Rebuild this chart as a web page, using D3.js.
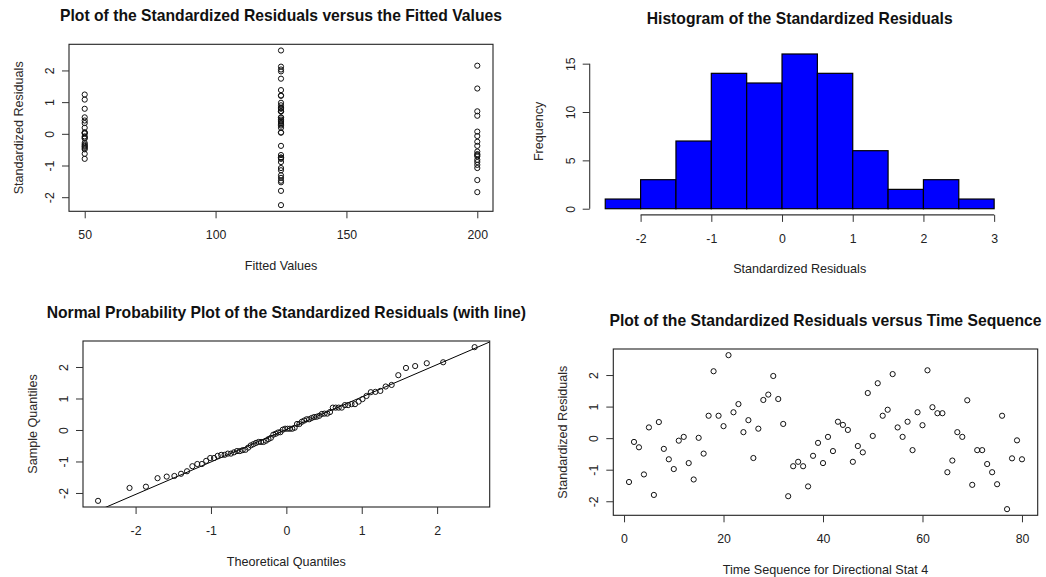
<!DOCTYPE html>
<html><head><meta charset="utf-8">
<script src="https://cdn.jsdelivr.net/npm/d3@7"></script>
<style>
body{margin:0;background:#fff;}
svg{display:block;font-family:"Liberation Sans",Arial,sans-serif;}
</style></head><body>
<svg id="chart" width="1046" height="577"></svg>
<script>
// ---- data ----
const residuals = [
 -1.39,-0.12,-0.29,-1.15, 0.34,-1.80, 0.51,-0.34,-0.67,-0.98,
 -0.08, 0.04,-0.79,-1.31, 0.01,-0.49, 0.71, 2.12, 0.71, 0.38,
  2.63, 0.82, 1.08, 0.19, 0.57,-0.63, 0.30, 1.21, 1.38, 1.97,
  1.24, 0.45,-1.84,-0.89,-0.75,-0.89,-1.53,-0.56,-0.15,-0.79,
  0.04,-0.41, 0.52, 0.42, 0.26,-0.75,-0.25,-0.45, 1.43, 0.07,
  1.74, 0.71, 0.90, 2.03, 0.34, 0.04, 0.52,-0.38, 0.82, 0.41,
  2.15, 0.98, 0.79, 0.79,-1.08,-0.71, 0.19, 0.04, 1.20,-1.48,
 -0.38,-0.38,-0.82,-1.08,-1.46, 0.71,-2.25,-0.64,-0.07,-0.67];
const fittedValues = [
 125, 50, 50,125, 50,125,125, 50,125,200,
  50, 50, 50,125, 50, 50,125,125,125,125,
 125,125, 50, 50,200, 50,125,125,125,125,
  50,125,200,200,125,125,125,200, 50,125,
 125, 50, 50, 50,125,125,200, 50,200,200,
 125,125,125,125,125, 50,125,200,125,125,
 200,125, 50,125,125,200,125,125,125,125,
  50,125,200,200,200,200,125,200,200,200];
const timeIndex = residuals.map((_, i) => i + 1);
const histBreaks = [-2.5,-2,-1.5,-1,-0.5,0,0.5,1,1.5,2,2.5,3];
const histCounts = [1,3,7,14,13,16,14,6,2,3,1];
const fittedTicks = [50,100,150,200];
const residTicks = [-2,-1,0,1,2];
const histXTicks = [-2,-1,0,1,2,3];
const histYTicks = [0,5,10,15];
const qqXTicks = [-2,-1,0,1,2];
const timeTicks = [0,20,40,60,80];

// ---- helpers ----
const svg = d3.select("#chart");
const TXT = "#222";
const fmt = d => String(d);
function rRange(vals){ const [a,b]=d3.extent(vals); const p=(b-a)*0.04; return [a-p,b+p]; }
function qnorm(p){
  const a=[-3.969683028665376e+01,2.209460984245205e+02,-2.759285104469687e+02,1.383577518672690e+02,-3.066479806614716e+01,2.506628277459239e+00];
  const b=[-5.447609879822406e+01,1.615858368580409e+02,-1.556989798598866e+02,6.680131188771972e+01,-1.328068155288572e+01];
  const c=[-7.784894002430293e-03,-3.223964580411365e-01,-2.400758277161838e+00,-2.549671010249719e+00,4.374664141464968e+00,2.938163982698783e+00];
  const d=[7.784695709041462e-03,3.224671290700398e-01,2.445134137142996e+00,3.754408661907416e+00];
  const pl=0.02425; let q,r;
  if(p<pl){q=Math.sqrt(-2*Math.log(p));return (((((c[0]*q+c[1])*q+c[2])*q+c[3])*q+c[4])*q+c[5])/((((d[0]*q+d[1])*q+d[2])*q+d[3])*q+1);}
  if(p>1-pl){q=Math.sqrt(-2*Math.log(1-p));return -(((((c[0]*q+c[1])*q+c[2])*q+c[3])*q+c[4])*q+c[5])/((((d[0]*q+d[1])*q+d[2])*q+d[3])*q+1);}
  q=p-0.5; r=q*q;
  return (((((a[0]*r+a[1])*r+a[2])*r+a[3])*r+a[4])*r+a[5])*q/(((((b[0]*r+b[1])*r+b[2])*r+b[3])*r+b[4])*r+1);
}

function xAxis(g, scale, ticks, y){
  const ax = g.append("g").attr("transform",`translate(0,${y})`)
    .call(d3.axisBottom(scale).tickValues(ticks).tickSize(7).tickSizeOuter(0).tickPadding(9).tickFormat(fmt));
  ax.select(".domain").remove();
  ax.selectAll(".tick line").attr("stroke","#333");
  ax.selectAll(".tick text").attr("fill",TXT).attr("font-size","12.3px")
    .attr("y",null).attr("dy",null).attr("transform","translate(0,28)");
  return ax;
}
function yAxis(g, scale, ticks, x){
  const ax = g.append("g").attr("transform",`translate(${x},0)`)
    .call(d3.axisLeft(scale).tickValues(ticks).tickSize(7).tickSizeOuter(0).tickFormat(fmt));
  ax.select(".domain").remove();
  ax.selectAll(".tick line").attr("stroke","#333");
  ax.selectAll(".tick text").attr("fill",TXT).attr("font-size","12.3px")
    .attr("x",0).attr("y",-15).attr("dy",null).attr("text-anchor","middle")
    .attr("transform","rotate(-90)");
  return ax;
}
function labels(g, box, title, xl, yl){
  const cx=(box.l+box.r)/2, cy=(box.t+box.b)/2;
  g.append("text").attr("x",cx).attr("y",box.t-23.5).attr("text-anchor","middle")
    .attr("font-weight","bold").attr("font-size","15.7px").attr("fill","#111").text(title);
  g.append("text").attr("x",cx).attr("y",box.b+58.5).attr("text-anchor","middle")
    .attr("font-size","12.6px").attr("fill",TXT).text(xl);
  g.append("text").attr("transform",`translate(${box.l-46.5},${cy}) rotate(-90)`).attr("text-anchor","middle")
    .attr("font-size","12.6px").attr("fill","#2e2a28").text(yl);
}
function frame(g, box){
  g.append("rect").attr("x",box.l).attr("y",box.t).attr("width",box.r-box.l).attr("height",box.b-box.t)
    .attr("fill","none").attr("stroke","#222").attr("stroke-width",1.1);
}
function points(g, xs, ys, sx, sy){
  g.append("g").selectAll("circle").data(xs).join("circle")
    .attr("cx",(d)=>sx(d)).attr("cy",(d,i)=>sy(ys[i])).attr("r",2.6)
    .attr("fill","none").attr("stroke","#111").attr("stroke-width",1);
}

// ---- Panel 1: residuals vs fitted ----
{
  const box={l:69,r:493,t:44.3,b:211.3};
  const g=svg.append("g");
  const sx=d3.scaleLinear().domain(rRange(fittedValues)).range([box.l,box.r]);
  const sy=d3.scaleLinear().domain(rRange(residuals)).range([box.b,box.t]);
  points(g, fittedValues, residuals, sx, sy);
  frame(g,box);
  xAxis(g,sx,fittedTicks,box.b);
  yAxis(g,sy,residTicks,box.l);
  labels(g,box,"Plot of the Standardized Residuals versus the Fitted Values","Fitted Values","Standardized Residuals");
}

// ---- Panel 2: histogram ----
{
  const box={l:589.7,r:1009.7,t:47.8,b:214.9};
  const g=svg.append("g");
  const sx=d3.scaleLinear().domain(rRange(histBreaks)).range([box.l,box.r]);
  const sy=d3.scaleLinear().domain(rRange([0,d3.max(histCounts)])).range([box.b,box.t]);
  g.append("g").selectAll("rect").data(histCounts).join("rect")
    .attr("x",(d,i)=>sx(histBreaks[i])).attr("width",(d,i)=>sx(histBreaks[i+1])-sx(histBreaks[i]))
    .attr("y",d=>sy(d)).attr("height",d=>sy(0)-sy(d))
    .attr("fill","#0000ff").attr("stroke","#000").attr("stroke-width",1.2);
  xAxis(g,sx,histXTicks,box.b);
  g.append("line").attr("x1",sx(histXTicks[0])).attr("x2",sx(histXTicks[histXTicks.length-1]))
    .attr("y1",box.b).attr("y2",box.b).attr("stroke","#333").attr("stroke-width",1.1);
  yAxis(g,sy,histYTicks,box.l);
  g.append("line").attr("y1",sy(histYTicks[0])).attr("y2",sy(histYTicks[histYTicks.length-1]))
    .attr("x1",box.l).attr("x2",box.l).attr("stroke","#333").attr("stroke-width",1.1);
  labels(g,box,"Histogram of the Standardized Residuals","Standardized Residuals","Frequency");
}

// ---- Panel 3: normal QQ plot ----
{
  const box={l:83,r:489.7,t:341,b:507};
  const g=svg.append("g");
  const sorted=residuals.slice().sort(d3.ascending);
  const n=sorted.length;
  const theo=sorted.map((_,i)=>qnorm((i+0.5)/n));
  const sx=d3.scaleLinear().domain(rRange(theo)).range([box.l,box.r]);
  const sy=d3.scaleLinear().domain(rRange(sorted)).range([box.b,box.t]);
  svg.append("clipPath").attr("id","qqclip").append("rect")
    .attr("x",box.l).attr("y",box.t).attr("width",box.r-box.l).attr("height",box.b-box.t);
  const y1=d3.quantile(sorted,0.25), y2=d3.quantile(sorted,0.75);
  const x1=qnorm(0.25), x2=qnorm(0.75);
  const slope=(y2-y1)/(x2-x1), icpt=y1-slope*x1;
  const [xa,xb]=sx.domain();
  g.append("line").attr("clip-path","url(#qqclip)")
    .attr("x1",sx(xa)).attr("y1",sy(icpt+slope*xa)).attr("x2",sx(xb)).attr("y2",sy(icpt+slope*xb))
    .attr("stroke","#000").attr("stroke-width",1);
  points(g, theo, sorted, sx, sy);
  frame(g,box);
  xAxis(g,sx,qqXTicks,box.b);
  yAxis(g,sy,residTicks,box.l);
  labels(g,box,"Normal Probability Plot of the Standardized Residuals (with line)","Theoretical Quantiles","Sample Quantiles");
}

// ---- Panel 4: residuals vs time ----
{
  const box={l:613.3,r:1037.7,t:349,b:515.3};
  const g=svg.append("g");
  const sx=d3.scaleLinear().domain(rRange(timeIndex)).range([box.l,box.r]);
  const sy=d3.scaleLinear().domain(rRange(residuals)).range([box.b,box.t]);
  points(g, timeIndex, residuals, sx, sy);
  frame(g,box);
  xAxis(g,sx,timeTicks,box.b);
  yAxis(g,sy,residTicks,box.l);
  labels(g,box,"Plot of the Standardized Residuals versus Time Sequence","Time Sequence for Directional Stat 4","Standardized Residuals");
}
</script>
</body></html>
